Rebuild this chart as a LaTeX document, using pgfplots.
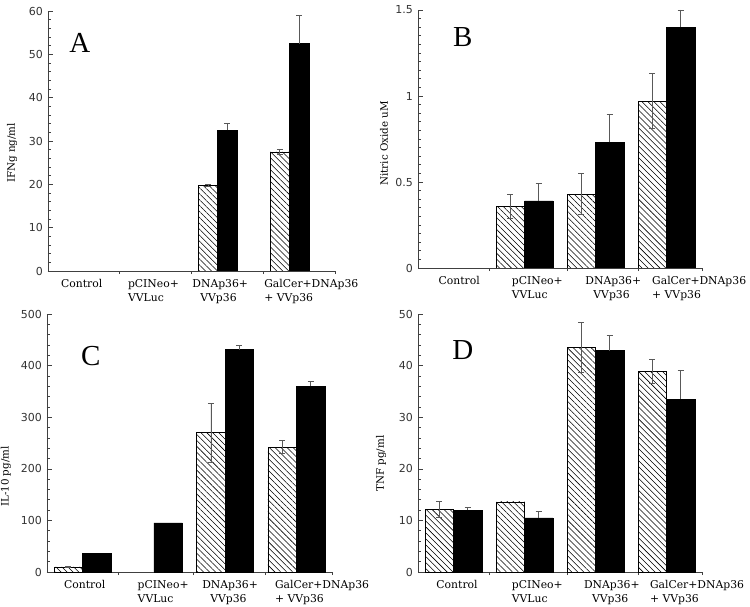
\documentclass[border=0pt]{standalone}
\usepackage{fontspec}
\setmainfont{DejaVu Serif}
\newfontfamily\tickfont{DejaVu Sans}
\newfontfamily\letterfont{Liberation Serif}
\usepackage{pgfplots}
\pgfplotsset{compat=1.18}
\usetikzlibrary{patterns.meta}

\pgfplotsset{
  panel/.style={
    scale only axis,
    axis x line=bottom, axis y line=left,
    axis line style={-, black!75, line width=0.6pt},
    xmin=-0.5, xmax=3.5, ymin=0,
    enlargelimits=false,
    tick align=inside,
    major x tick style={draw=none},
    minor x tick style={black!75, line width=0.6pt},
    y tick style={black!75, line width=0.6pt},
    major tick length=5pt, minor tick length=3.2pt,
    minor y tick num=4,
    /pgf/number format/assume math mode=true,
    yticklabel style={font=\tickfont\fontsize{11}{13}\selectfont, text=black!80, xshift=-1.5pt},
    xticklabel style={font=\fontsize{10.8}{13.5}\selectfont, align=left},
    xticklabels={Control, {pCINeo+\\VVLuc}, {DNAp36+\\\hspace*{8pt}VVp36}, {GalCer+DNAp36\\+ VVp36}},
    ylabel style={font=\fontsize{10.3}{12}\selectfont, anchor=center},
    ybar, bar width=0.4,
  },
  errs/.style={
    error bars/y explicit,
    error bars/error bar style={black!65, line width=0.6pt},
    error bars/error mark options={rotate=90, mark size=3pt, black!65, line width=0.6pt}},
  hatchbar/.style={draw=black, line width=0.6pt,
    pattern={Lines[angle=-45, distance=4.2pt, line width=0.55pt]}},
  blackbar/.style={draw=black, fill=black, line width=0.6pt},
  hatcherr/.style={hatchbar, errs, error bars/y dir=both},
  blackerr/.style={blackbar, errs, error bars/y dir=plus},
}

\begin{document}
\begin{tikzpicture}
\useasboundingbox (0,0) rectangle (750pt,606pt);

% A: IFNg
\begin{axis}[panel, at={(48pt,335pt)}, anchor=south west,
  width=287pt, height=260pt, ymax=60, ytick={0,10,...,60},
  bar width=0.27,
  xtick={-0.03,0.97,1.90,3.17}, minor xtick={0.5,1.5,2.5,3.5},
  ylabel={IFNg ng/ml}, ylabel style={at={(axis description cs:-0.125,0.454)}}]
\addplot[hatcherr, bar shift=-0.27] coordinates {(2,19.8) +- (0,0.2) (3,27.5) +- (0,0.6)};
\addplot[blackerr, bar shift=0] coordinates {(2,32.5) +- (0,1.6) (3,52.5) +- (0,6.4)};
\node[font=\letterfont\fontsize{29}{30}\selectfont] at (axis description cs:0.111,0.877) {A};
\end{axis}

% B: Nitric oxide
\begin{axis}[panel, at={(418pt,338pt)}, anchor=south west,
  width=284pt, height=258pt, ymax=1.5, ytick={0,0.5,1,1.5}, minor y tick num=9,
  xtick={0.08,1.18,2.25,3.46}, minor xtick={0.51,1.6,2.6,3.5},
  ylabel={Nitric Oxide uM}, ylabel style={at={(axis description cs:-0.12,0.483)}}]
\addplot[hatcherr, bar shift=-0.2] coordinates {(1,0.36) +- (0,0.07) (2,0.43) +- (0,0.12) (3,0.97) +- (0,0.16)};
\addplot[blackerr, bar shift=0.2] coordinates {(1,0.39) +- (0,0.10) (2,0.73) +- (0,0.165) (3,1.40) +- (0,0.10)};
\node[font=\letterfont\fontsize{29}{30}\selectfont] at (axis description cs:0.158,0.895) {B};
\end{axis}

% C: IL-10
\begin{axis}[panel, at={(47pt,34pt)}, anchor=south west,
  width=285pt, height=258pt, ymax=500, ytick={0,100,...,500},
  xtick={0.03,1.13,2.07,3.36}, minor xtick={0.5,1.55,2.56,3.5},
  ylabel={IL-10 pg/ml}, ylabel style={at={(axis description cs:-0.144,0.37)}}]
\addplot[hatcherr, bar shift=-0.2] coordinates {(0,10) +- (0,1.5) (2,270) +- (0,57) (3,242) +- (0,12.5)};
\addplot[blackerr, bar shift=0.2] coordinates {(2,431) +- (0,8) (3,360) +- (0,9)};
\addplot[blackbar, bar shift=0.2] coordinates {(0,36) (1,95)};
\node[font=\letterfont\fontsize{29}{30}\selectfont] at (axis description cs:0.154,0.837) {C};
\end{axis}

% D: TNF
\begin{axis}[panel, at={(418pt,34pt)}, anchor=south west,
  width=284pt, height=258pt, ymax=50, ytick={0,10,...,50},
  xtick={0.05,1.18,2.23,3.43}, minor xtick={0.51,1.6,2.6,3.5},
  ylabel={TNF pg/ml}, ylabel style={at={(axis description cs:-0.13,0.42)}}]
\addplot[hatcherr, bar shift=-0.2] coordinates {(0,12.2) +- (0,1.55) (2,43.5) +- (0,4.85) (3,38.9) +- (0,2.3)};
\addplot[hatchbar, bar shift=-0.2] coordinates {(1,13.6)};
\addplot[blackerr, bar shift=0.2] coordinates {(0,12.0) +- (0,0.5) (1,10.5) +- (0,1.2) (2,42.9) +- (0,3) (3,33.5) +- (0,5.6)};
\node[font=\letterfont\fontsize{29}{30}\selectfont] at (axis description cs:0.158,0.86) {D};
\end{axis}
\end{tikzpicture}
\end{document}
